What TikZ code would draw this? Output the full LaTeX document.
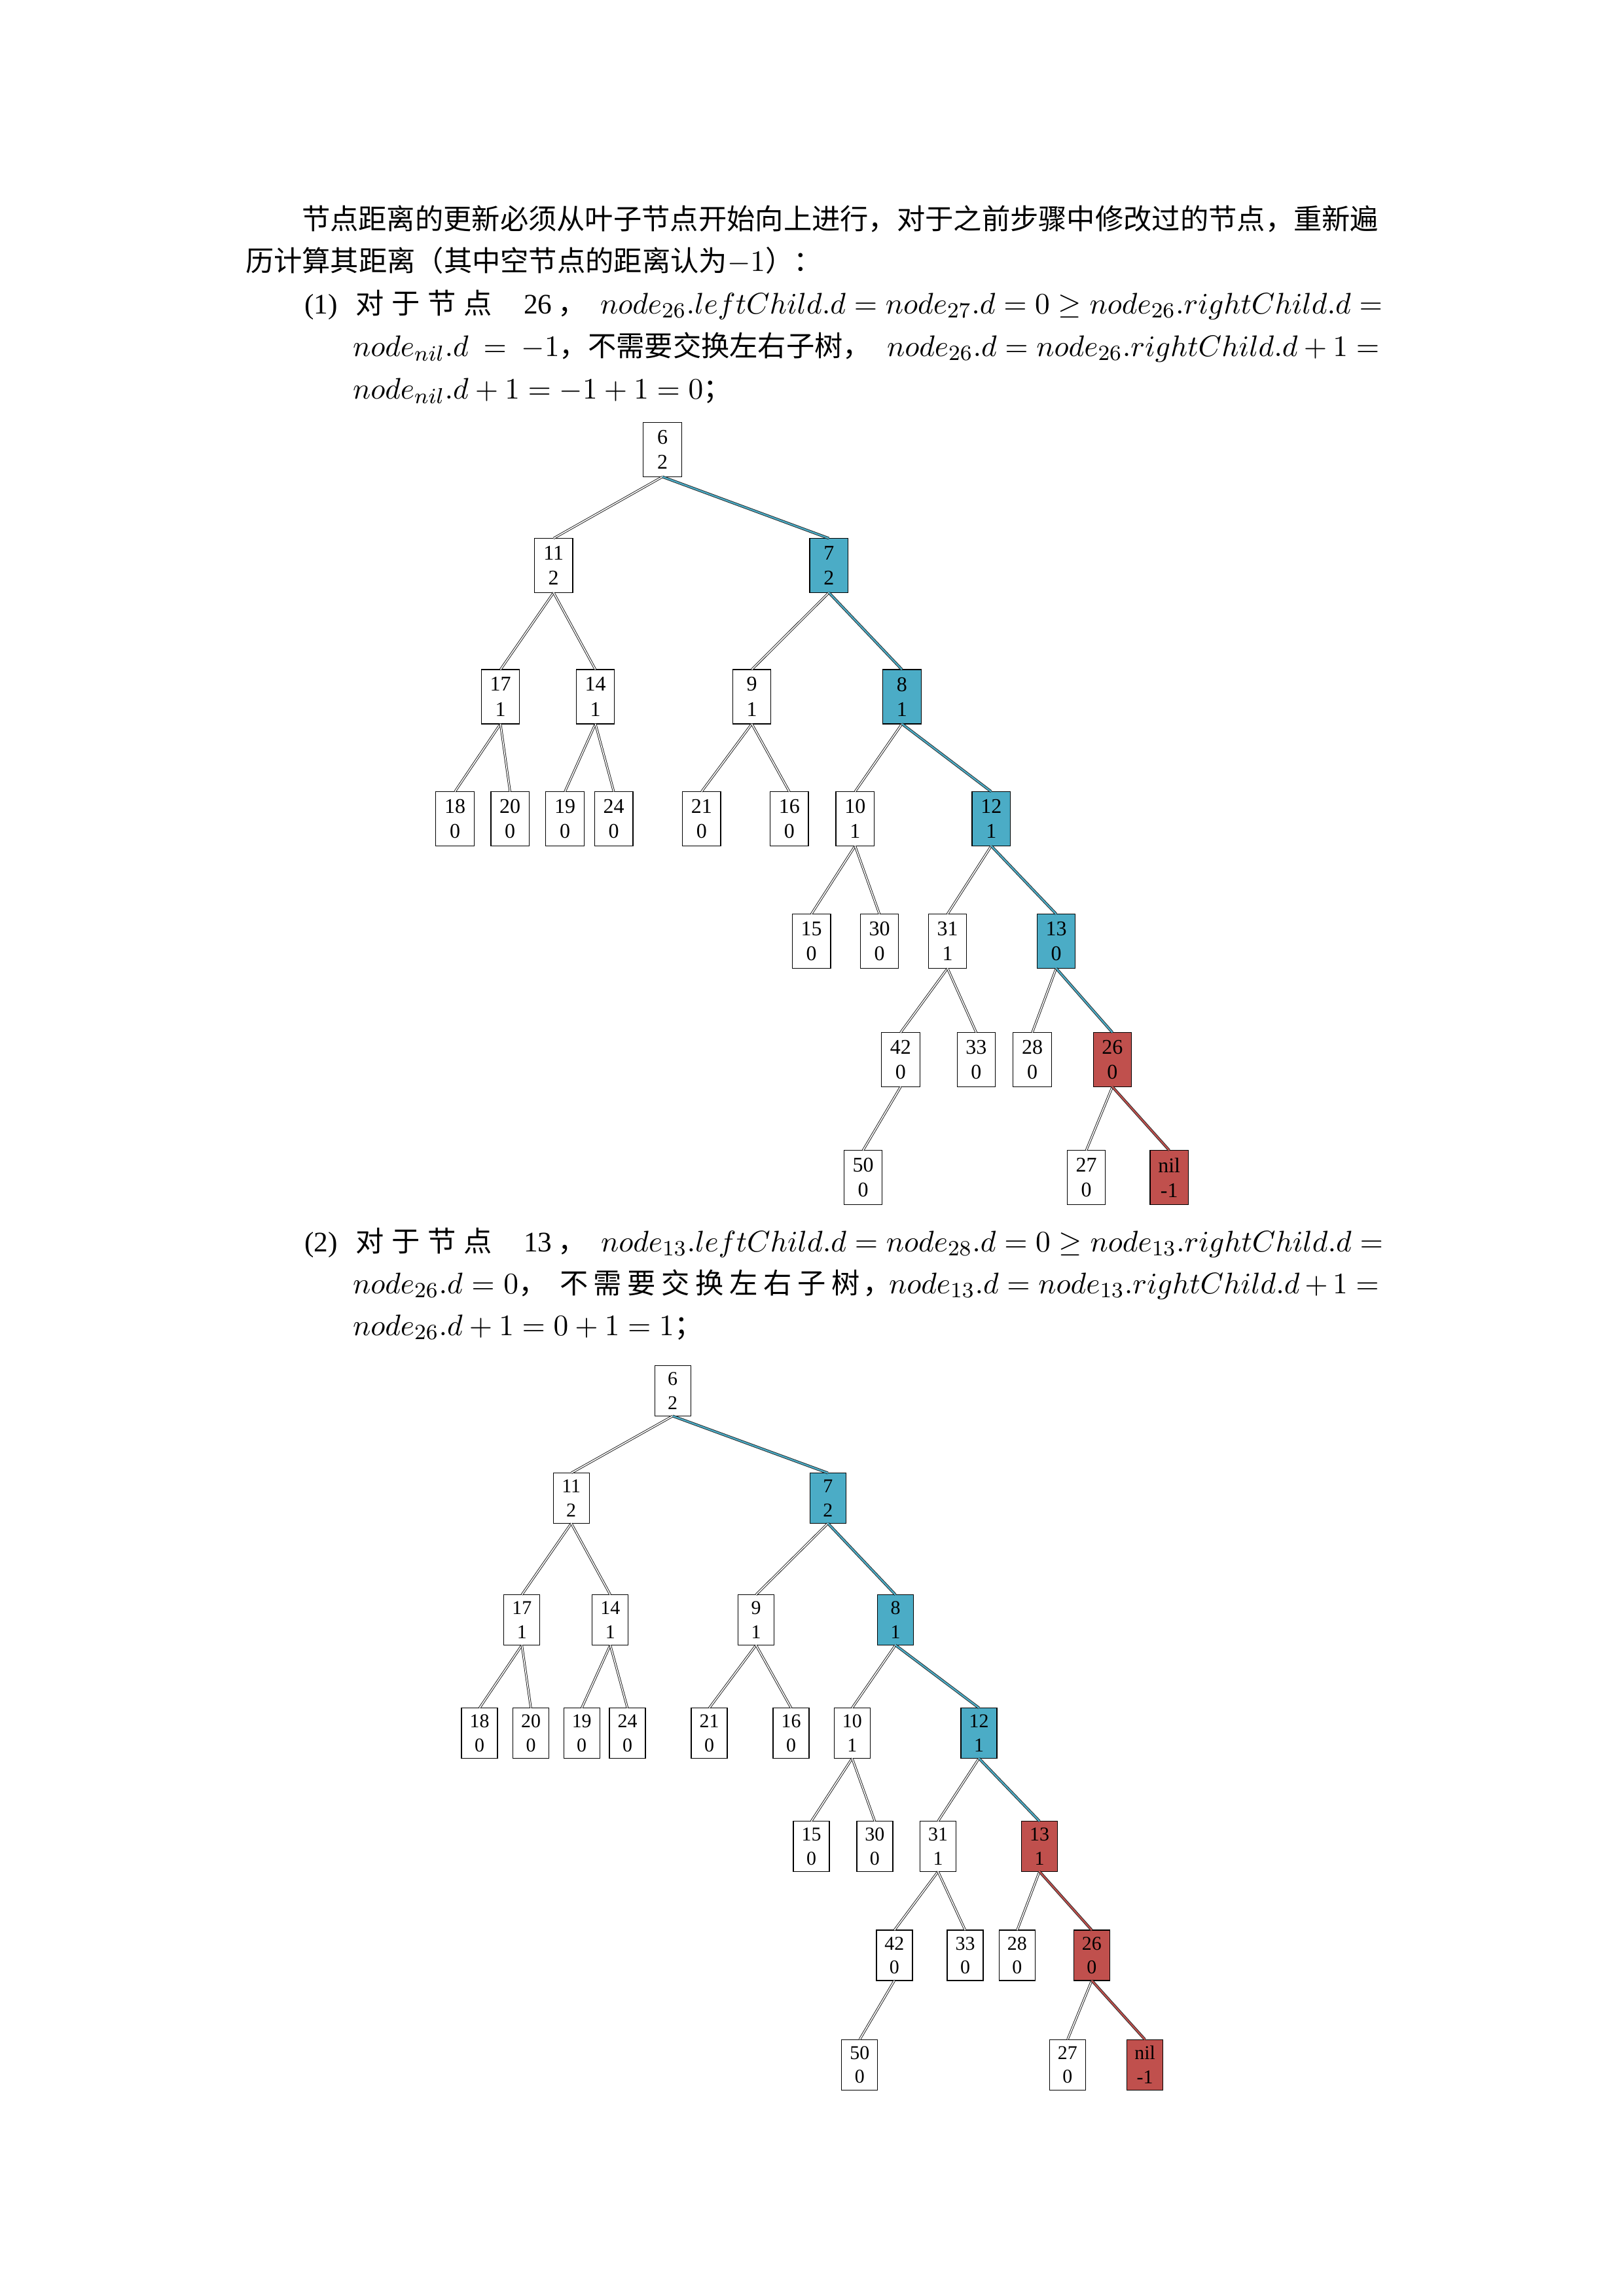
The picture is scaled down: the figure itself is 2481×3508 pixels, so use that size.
\documentclass[tikz,border=0pt]{standalone}
\usepackage{fontspec}
\setmainfont{Liberation Serif}
\newfontfamily\cjk{Noto Sans CJK SC}
\definecolor{hlblue}{HTML}{4BACC6}
\definecolor{hlred}{HTML}{C0504D}
% formulas are set a little larger than the surrounding text
\newcommand\mth[1]{{\fontsize{11pt}{15.6pt}\selectfont$#1$}}

\tikzset{
  txt/.style={anchor=base west, inner sep=0pt, outer sep=0pt,
    font=\fontsize{10.43pt}{15.6pt}\selectfont},
  treeA/.style={rectangle, draw=black, line width=0.3pt, inner sep=0pt, outer sep=0pt,
    minimum width=14.1pt, minimum height=20pt, align=center,
    font=\fontsize{7.7pt}{9.2pt}\selectfont},
  treeB/.style={rectangle, draw=black, line width=0.3pt, inner sep=0pt, outer sep=0pt,
    minimum width=13.25pt, minimum height=18.55pt, align=center,
    font=\fontsize{7.2pt}{8.8pt}\selectfont},
  hlb/.style={fill=hlblue},
  hlr/.style={fill=hlred},
  edgew/.style={draw=black!90, line width=0.22pt, double=white, double distance=0.4pt},
  edgeb/.style={draw=black!85, line width=0.22pt, double=hlblue, double distance=0.55pt},
  edger/.style={draw=black!85, line width=0.22pt, double=hlred, double distance=0.55pt},
}

\begin{document}
\begin{tikzpicture}[x=0.24091pt, y=-0.24091pt]
\path[use as bounding box] (0,0) rectangle (2481,3508);

% ---------- introduction ----------
\node[txt] (p1) at (461,350) {\cjk 节点距离的更新必须从叶子节点开始向上进行，对于之前步骤中修改过的节点，重新遍};
\node[txt] (p2) at (375,414) {\cjk 历计算其距离（其中空节点的距离认为\mth{-1}）：};

% ---------- step (1) ----------
\node[txt] (s1n) at (465,479) {(1)};
\node[txt] (s1a) at (543,479) {\cjk 对};
\node[txt] (s1b) at (598,479) {\cjk 于};
\node[txt] (s1c) at (653,479) {\cjk 节};
\node[txt] (s1d) at (708,479) {\cjk 点};
\node[txt] (s1k) at (800,479) {26};
\node[txt] (s1e) at (852,479) {\cjk ，};
\node[txt] (s1m) at (917,479) {\makebox[286.7pt][s]{\mth{node_{26}.leftChild.d = node_{27}.d = 0 \geq node_{26}.rightChild.d =}}};
\node[txt] (s1f) at (539,544) {\makebox[76.1pt][s]{\mth{node_{nil}.d = -1}}\cjk ，不需要交换左右子树，};
\node[txt] (s1g) at (1355,544) {\makebox[181.2pt][s]{\mth{node_{26}.d = node_{26}.rightChild.d + 1 =}}};
\node[txt] (s1h) at (539,609) {\mth{node_{nil}.d + 1 = -1 + 1 = 0}\cjk ；};

% ---------- tree after step (1) ----------
\node[treeA] (a6)  at (1012,687)   {6\\2};
\node[treeA] (a11) at (845.7,864)  {11\\2};
\node[treeA,hlb] (a7) at (1266.3,864) {7\\2};
\node[treeA] (a17) at (764.6,1064.5) {17\\1};
\node[treeA] (a14) at (909.6,1064.5) {14\\1};
\node[treeA] (a9)  at (1148.5,1064.5) {9\\1};
\node[treeA,hlb] (a8) at (1377.9,1064.5) {8\\1};
\node[treeA] (a18) at (695,1251)    {18\\0};
\node[treeA] (a20) at (779.2,1251)  {20\\0};
\node[treeA] (a19) at (863,1251)    {19\\0};
\node[treeA] (a24) at (937.7,1251)  {24\\0};
\node[treeA] (a21) at (1071.8,1251) {21\\0};
\node[treeA] (a16) at (1205.8,1251) {16\\0};
\node[treeA] (a10) at (1306.3,1251) {10\\1};
\node[treeA,hlb] (a12) at (1514.3,1251) {12\\1};
\node[treeA] (a15) at (1239.6,1438) {15\\0};
\node[treeA] (a30) at (1343.5,1438) {30\\0};
\node[treeA] (a31) at (1447.5,1438) {31\\1};
\node[treeA,hlb] (a13) at (1613.5,1438) {13\\0};
\node[treeA] (a42) at (1375.9,1619) {42\\0};
\node[treeA] (a33) at (1491.4,1619) {33\\0};
\node[treeA] (a28) at (1577,1619)   {28\\0};
\node[treeA,hlr] (a26) at (1699.4,1619) {26\\0};
\node[treeA] (a50) at (1318.5,1799) {50\\0};
\node[treeA] (a27) at (1659.5,1799) {27\\0};
\node[treeA,hlr] (anil) at (1786.2,1799) {nil\\-1};

\draw[edgew] (a6.south) -- (a11.north);
\draw[edgeb] (a6.south) -- (a7.north);
\draw[edgew] (a11.south) -- (a17.north);
\draw[edgew] (a11.south) -- (a14.north);
\draw[edgew] (a7.south) -- (a9.north);
\draw[edgeb] (a7.south) -- (a8.north);
\draw[edgew] (a17.south) -- (a18.north);
\draw[edgew] (a17.south) -- (a20.north);
\draw[edgew] (a14.south) -- (a19.north);
\draw[edgew] (a14.south) -- (a24.north);
\draw[edgew] (a9.south) -- (a21.north);
\draw[edgew] (a9.south) -- (a16.north);
\draw[edgew] (a8.south) -- (a10.north);
\draw[edgeb] (a8.south) -- (a12.north);
\draw[edgew] (a10.south) -- (a15.north);
\draw[edgew] (a10.south) -- (a30.north);
\draw[edgew] (a12.south) -- (a31.north);
\draw[edgeb] (a12.south) -- (a13.north);
\draw[edgew] (a31.south) -- (a42.north);
\draw[edgew] (a31.south) -- (a33.north);
\draw[edgew] (a13.south) -- (a28.north);
\draw[edgeb] (a13.south) -- (a26.north);
\draw[edgew] (a42.south) -- (a50.north);
\draw[edgew] (a26.south) -- (a27.north);
\draw[edger] (a26.south) -- (anil.north);

% ---------- step (2) ----------
\node[txt] (s2n) at (465,1912) {(2)};
\node[txt] (s2a) at (543,1912) {\cjk 对};
\node[txt] (s2b) at (598,1912) {\cjk 于};
\node[txt] (s2c) at (653,1912) {\cjk 节};
\node[txt] (s2d) at (708,1912) {\cjk 点};
\node[txt] (s2k) at (800,1912) {13};
\node[txt] (s2e) at (852,1912) {\cjk ，};
\node[txt] (s2m) at (918,1912) {\makebox[286.4pt][s]{\mth{node_{13}.leftChild.d = node_{28}.d = 0 \geq node_{13}.rightChild.d =}}};
\node[txt] (s2f) at (539,1976) {\makebox[61pt][s]{\mth{node_{26}.d = 0}}\cjk ，};
\node[txt] (s2g) at (855,1976) {\cjk\makebox[110.6pt][s]{不\hfil 需\hfil 要\hfil 交\hfil 换\hfil 左\hfil 右\hfil 子\hfil 树}};
\node[txt] (s2h) at (1318,1976) {\cjk ，};
\node[txt] (s2i) at (1358,1976) {\makebox[180.4pt][s]{\mth{node_{13}.d = node_{13}.rightChild.d + 1 =}}};
\node[txt] (s2j) at (539,2040) {\mth{node_{26}.d + 1 = 0 + 1 = 1}\cjk ；};

% ---------- tree after step (2) ----------
\node[treeB] (b6)  at (1027.7,2125) {6\\2};
\node[treeB] (b11) at (872.7,2289)  {11\\2};
\node[treeB,hlb] (b7) at (1264.8,2289) {7\\2};
\node[treeB] (b17) at (797.3,2475)  {17\\1};
\node[treeB] (b14) at (932.3,2475)  {14\\1};
\node[treeB] (b9)  at (1155,2475)   {9\\1};
\node[treeB,hlb] (b8) at (1368,2475) {8\\1};
\node[treeB] (b18) at (732.6,2648)  {18\\0};
\node[treeB] (b20) at (811,2648)    {20\\0};
\node[treeB] (b19) at (888.7,2648)  {19\\0};
\node[treeB] (b24) at (958.5,2648)  {24\\0};
\node[treeB] (b21) at (1083.6,2648) {21\\0};
\node[treeB] (b16) at (1208.6,2648) {16\\0};
\node[treeB] (b10) at (1301.8,2648) {10\\1};
\node[treeB,hlb] (b12) at (1495.6,2648) {12\\1};
\node[treeB] (b15) at (1239.5,2821) {15\\0};
\node[treeB] (b30) at (1336.4,2821) {30\\0};
\node[treeB] (b31) at (1433,2821)   {31\\1};
\node[treeB,hlr] (b13) at (1588,2821) {13\\1};
\node[treeB] (b42) at (1366.4,2987.5) {42\\0};
\node[treeB] (b33) at (1474.5,2987.5) {33\\0};
\node[treeB] (b28) at (1553.9,2987.5) {28\\0};
\node[treeB,hlr] (b26) at (1667.9,2987.5) {26\\0};
\node[treeB] (b50) at (1313.3,3154.6) {50\\0};
\node[treeB] (b27) at (1630.9,3154.6) {27\\0};
\node[treeB,hlr] (bnil) at (1749.1,3154.6) {nil\\-1};

\draw[edgew] (b6.south) -- (b11.north);
\draw[edgeb] (b6.south) -- (b7.north);
\draw[edgew] (b11.south) -- (b17.north);
\draw[edgew] (b11.south) -- (b14.north);
\draw[edgew] (b7.south) -- (b9.north);
\draw[edgeb] (b7.south) -- (b8.north);
\draw[edgew] (b17.south) -- (b18.north);
\draw[edgew] (b17.south) -- (b20.north);
\draw[edgew] (b14.south) -- (b19.north);
\draw[edgew] (b14.south) -- (b24.north);
\draw[edgew] (b9.south) -- (b21.north);
\draw[edgew] (b9.south) -- (b16.north);
\draw[edgew] (b8.south) -- (b10.north);
\draw[edgeb] (b8.south) -- (b12.north);
\draw[edgew] (b10.south) -- (b15.north);
\draw[edgew] (b10.south) -- (b30.north);
\draw[edgew] (b12.south) -- (b31.north);
\draw[edgeb] (b12.south) -- (b13.north);
\draw[edgew] (b31.south) -- (b42.north);
\draw[edgew] (b31.south) -- (b33.north);
\draw[edgew] (b13.south) -- (b28.north);
\draw[edger] (b13.south) -- (b26.north);
\draw[edgew] (b42.south) -- (b50.north);
\draw[edgew] (b26.south) -- (b27.north);
\draw[edger] (b26.south) -- (bnil.north);
\end{tikzpicture}
\end{document}
